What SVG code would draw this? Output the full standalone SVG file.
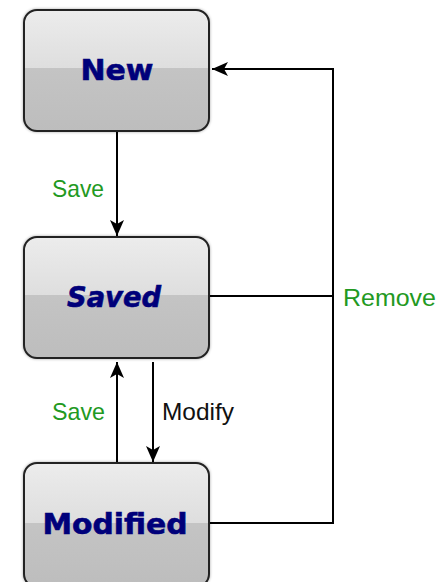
<svg xmlns="http://www.w3.org/2000/svg" width="441" height="582" viewBox="0 0 441 582">
  <defs>
    <linearGradient id="boxFill" x1="0" y1="0" x2="0" y2="1">
      <stop offset="0" stop-color="#ececec"/>
      <stop offset="0.48" stop-color="#dedede"/>
      <stop offset="0.48" stop-color="#c4c4c4"/>
      <stop offset="1" stop-color="#bdbdbd"/>
    </linearGradient>
    <filter id="soft" x="-10%" y="-10%" width="120%" height="120%">
      <feGaussianBlur in="SourceAlpha" stdDeviation="1.5"/>
      <feComponentTransfer><feFuncA type="linear" slope="0.35"/></feComponentTransfer>
      <feMerge><feMergeNode/><feMergeNode in="SourceGraphic"/></feMerge>
    </filter>
    <marker id="arrow" viewBox="0 0 16 14" refX="16" refY="7" markerWidth="16" markerHeight="14" markerUnits="userSpaceOnUse" orient="auto">
      <path d="M0,0 L16,7 L0,14 L4,7 Z" fill="#000"/>
    </marker>
  </defs>
  <style>
    .box { fill: url(#boxFill); stroke: #222; stroke-width: 2; filter: url(#soft); }
    .title { font-family: "DejaVu Sans", Verdana, sans-serif; font-weight: bold; fill: #00007a; text-anchor: middle; stroke: #00007a; stroke-width: 0.6; }
    .edge { fill: none; stroke: #000; stroke-width: 2; }
    .lbl { font-family: "Liberation Sans", Arial, sans-serif; font-size: 24px; }
    .green { fill: #229922; }
    .black { fill: #111; }
  </style>
  <rect width="441" height="582" fill="#fff"/>

  <g id="connectors">
    <path class="edge" d="M117,132 V236" marker-end="url(#arrow)"/>
    <path class="edge" d="M117,462 V362" marker-end="url(#arrow)"/>
    <path class="edge" d="M153,362 V462" marker-end="url(#arrow)"/>
    <path class="edge" d="M210,296 H333"/>
    <path class="edge" d="M210,523 H333 V69 H212" marker-end="url(#arrow)"/>
    <text class="lbl green" x="52" y="197" textLength="52" lengthAdjust="spacingAndGlyphs">Save</text>
    <text class="lbl green" x="52" y="420" textLength="53" lengthAdjust="spacingAndGlyphs">Save</text>
    <text class="lbl black" x="162" y="420" textLength="72" lengthAdjust="spacingAndGlyphs">Modify</text>
    <text class="lbl green" x="343" y="306" textLength="93" lengthAdjust="spacingAndGlyphs">Remove</text>
  </g>

  <g id="node-new">
    <rect class="box" x="24" y="10" width="185" height="121" rx="13"/>
    <text class="title" x="117" y="80" font-size="29" textLength="73" lengthAdjust="spacingAndGlyphs">New</text>
  </g>

  <g id="node-saved">
    <rect class="box" x="24" y="237" width="185" height="121" rx="13"/>
    <text class="title" x="114" y="307" font-size="29" font-style="italic" textLength="94" lengthAdjust="spacingAndGlyphs">Saved</text>
  </g>

  <g id="node-modified">
    <rect class="box" x="24" y="463" width="185" height="124" rx="13"/>
    <text class="title" x="115" y="534" font-size="29" textLength="145" lengthAdjust="spacingAndGlyphs">Modified</text>
  </g>
</svg>
